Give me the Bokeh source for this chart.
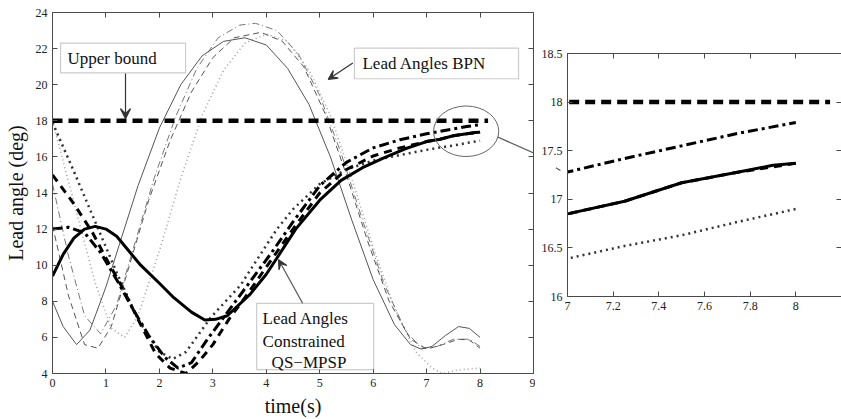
from bokeh.plotting import figure
from bokeh.models import (LinearAxis, FixedTicker, Label, Arrow, VeeHead,
                          BoxAnnotation, Range1d)
from bokeh.layouts import row
from bokeh.embed import file_html
from bokeh.resources import INLINE

# ---------------- data ----------------
# thin (BPN) curves
bpn_solid_t = [0, 0.2, 0.45, 0.7, 1.0, 1.3, 1.6, 2.0, 2.4, 2.8, 3.2, 3.6, 4.0, 4.4, 4.8, 5.2, 5.6, 6.0, 6.4, 6.7, 6.9, 7.1, 7.35, 7.6, 7.8, 8.0]
bpn_solid_v = [8.0, 6.6, 5.6, 6.4, 8.8, 11.6, 14.4, 17.6, 20.0, 21.6, 22.4, 22.6, 22.2, 20.9, 18.9, 16.0, 12.5, 9.2, 6.7, 5.6, 5.35, 5.5, 6.1, 6.6, 6.5, 6.0]

bpn_dash_t = [0, 0.3, 0.6, 0.85, 1.1, 1.4, 1.8, 2.2, 2.6, 3.0, 3.4, 3.9, 4.3, 4.7, 5.1, 5.5, 5.9, 6.3, 6.7, 7.0, 7.3, 7.6, 7.8, 8.0]
bpn_dash_v = [12.2, 8.3, 5.6, 5.4, 6.6, 9.6, 13.6, 16.9, 19.6, 21.5, 22.6, 22.9, 22.4, 21.0, 18.4, 15.0, 11.3, 8.0, 5.9, 5.35, 5.6, 5.9, 5.85, 5.4]

bpn_dashdot_t = [0, 0.3, 0.6, 0.9, 1.2, 1.5, 1.9, 2.3, 2.7, 3.1, 3.5, 3.8, 4.2, 4.6, 5.0, 5.4, 5.8, 6.2, 6.6, 6.9, 7.2, 7.5, 7.8, 8.0]
bpn_dashdot_v = [14.5, 10.5, 7.2, 6.2, 7.8, 10.8, 14.8, 18.2, 20.9, 22.6, 23.3, 23.4, 23.0, 21.7, 19.4, 16.2, 12.5, 9.0, 6.4, 5.4, 5.5, 5.9, 5.9, 5.5]

bpn_dot_t = [0, 0.4, 0.8, 1.1, 1.35, 1.6, 2.0, 2.4, 2.8, 3.2, 3.6, 4.0, 4.4, 4.8, 5.2, 5.6, 6.0, 6.4, 6.8, 7.1, 7.3, 7.6, 8.0]
bpn_dot_v = [18.0, 13.5, 9.0, 6.5, 6.0, 7.2, 10.8, 14.8, 18.3, 20.8, 22.3, 22.8, 22.4, 20.8, 18.3, 14.8, 11.0, 7.6, 5.2, 4.3, 4.0, 4.2, 4.3]

# thick (constrained QS-MPSP) curves
qs_solid_t = [0, 0.2, 0.4, 0.6, 0.8, 1.0, 1.2, 1.65, 2.0, 2.27, 2.6, 2.85, 3.05, 3.27, 3.7, 4.0, 4.2, 4.55, 5.0, 5.4, 5.8, 6.2, 6.6, 7.0, 7.25, 7.5, 7.75, 7.9, 8.0]
qs_solid_v = [9.4, 10.6, 11.5, 12.0, 12.15, 12.0, 11.6, 10.0, 9.0, 8.2, 7.4, 6.96, 7.0, 7.2, 8.4, 9.5, 10.4, 12.0, 13.6, 14.7, 15.4, 15.95, 16.45, 16.85, 16.98, 17.17, 17.28, 17.35, 17.37]

qs_dash_t = [0, 0.4, 0.75, 1.0, 1.3, 1.6, 1.93, 2.2, 2.5, 2.75, 3.0, 3.3, 3.6, 4.0, 4.5, 5.0, 5.5, 6.0, 6.5, 7.0, 7.25, 7.5, 7.75, 8.0]
qs_dash_v = [15.0, 13.4, 11.8, 10.4, 8.8, 7.0, 5.1, 4.3, 4.0, 4.7, 5.6, 7.0, 8.2, 9.9, 12.0, 14.0, 15.3, 16.05, 16.5, 16.85, 16.98, 17.17, 17.28, 17.37]

qs_dashdot_t = [0, 0.3, 0.6, 0.9, 1.2, 1.5, 1.8, 2.1, 2.35, 2.6, 2.9, 3.4, 4.1, 4.5, 5.0, 5.5, 6.0, 6.5, 7.0, 7.25, 7.5, 7.75, 8.0]
qs_dashdot_v = [12.0, 12.1, 11.8, 10.7, 9.2, 7.6, 6.1, 4.9, 4.3, 4.6, 5.9, 7.9, 10.7, 12.4, 14.4, 15.7, 16.5, 16.95, 17.28, 17.42, 17.55, 17.68, 17.79]

qs_dot_t = [0, 0.4, 0.8, 1.2, 1.6, 2.0, 2.25, 2.5, 2.96, 3.52, 4.0, 4.2, 4.5, 5.0, 5.5, 6.0, 6.5, 7.0, 7.25, 7.5, 7.75, 8.0]
qs_dot_v = [17.9, 15.2, 12.4, 9.6, 7.0, 5.2, 4.8, 5.2, 7.1, 8.9, 11.1, 12.0, 13.1, 14.5, 15.3, 15.8, 16.1, 16.39, 16.52, 16.63, 16.77, 16.9]

bound_t = [0, 8.15]
bound_v = [18, 18]

main_xticks = [0, 1, 2, 3, 4, 5, 6, 7, 8, 9]
main_yticks = [4, 6, 8, 10, 12, 14, 16, 18, 20, 22, 24]
inset_xticks = [7, 7.2, 7.4, 7.6, 7.8, 8, 8.2]
inset_yticks = [16, 16.5, 17, 17.5, 18, 18.5]

SERIF = "Liberation Serif"
AX = "#4a4a4a"


def style_axes(p, xticks, yticks, top_ticks, xover=None, yover=None):
    for ax in p.xaxis + p.yaxis:
        ax.major_tick_in = 5
        ax.major_tick_out = 0
        ax.minor_tick_in = 0
        ax.minor_tick_out = 0
        ax.axis_line_color = AX
        ax.major_tick_line_color = AX
        ax.major_label_text_font = SERIF
        ax.major_label_text_font_size = "12px"
        ax.major_label_text_color = "#222222"
        ax.axis_label_text_font = SERIF
        ax.axis_label_text_font_style = "normal"
        ax.axis_label_text_font_size = "20px"
        ax.axis_label_text_color = "#111111"
    p.xaxis.ticker = FixedTicker(ticks=xticks)
    p.yaxis.ticker = FixedTicker(ticks=yticks)
    if xover:
        p.xaxis.major_label_overrides = xover
    if yover:
        p.yaxis.major_label_overrides = yover
    for side, tks in (("above", top_ticks), ("right", yticks)):
        ax = LinearAxis(ticker=FixedTicker(ticks=tks), major_label_text_color=None,
                        major_label_text_font_size="1px", major_label_standoff=0,
                        axis_label_standoff=0,
                        major_tick_in=5, major_tick_out=0, minor_tick_in=0, minor_tick_out=0,
                        axis_line_color=AX, major_tick_line_color=AX)
        p.add_layout(ax, side)
    p.outline_line_color = None
    p.xgrid.visible = False
    p.ygrid.visible = False


def draw_series(p):
    p.line(bpn_dot_t, bpn_dot_v, line_color="#a0a0a0", line_width=1.6, line_dash="1 3")
    p.line(bpn_dashdot_t, bpn_dashdot_v, line_color="#777777", line_width=1, line_dash="7 3 1 3")
    p.line(bpn_dash_t, bpn_dash_v, line_color="#555555", line_width=1, line_dash="6 4")
    p.line(bpn_solid_t, bpn_solid_v, line_color="#555555", line_width=1)
    p.line(qs_dot_t, qs_dot_v, line_color="#333333", line_width=2.5, line_dash="2 4")
    p.line(qs_dashdot_t, qs_dashdot_v, line_color="black", line_width=3, line_dash="10 4 3 4")
    p.line(qs_dash_t, qs_dash_v, line_color="black", line_width=3, line_dash="8 6")
    p.line(qs_solid_t, qs_solid_v, line_color="black", line_width=3)
    p.line(bound_t, bound_v, line_color="black", line_width=4.5, line_dash="10 6")


# ---------------- main figure ----------------
p = figure(width=535, height=419, output_backend="svg", toolbar_location=None,
           x_range=Range1d(0, 9), y_range=Range1d(4, 24),
           min_border_left=52, min_border_right=2, min_border_top=12, min_border_bottom=42,
           background_fill_color="white", border_fill_color="white", frame_align=False)
p.xaxis.axis_label = "time(s)"
p.yaxis.axis_label = "Lead angle (deg)"
style_axes(p, main_xticks, main_yticks, main_xticks)
p.xaxis[0].axis_label_standoff = 1
p.yaxis[0].axis_label_standoff = 6
draw_series(p)


def textbox(p, left, right, bottom, top):
    p.add_layout(BoxAnnotation(left=left, right=right, bottom=bottom, top=top,
                               fill_color="white", fill_alpha=1.0,
                               line_color="#555555", line_width=1.2))


textbox(p, 0.15, 2.49, 20.66, 22.30)
p.add_layout(Label(x=0.28, y=21.45, text="Upper bound", text_font=SERIF,
                   text_font_size="17px", text_baseline="middle", text_color="#111111"))
p.add_layout(Arrow(x_start=1.366, y_start=20.62, x_end=1.366, y_end=18.12,
                   line_color="#333333", line_width=1.2,
                   end=VeeHead(size=10, line_color="#333333", fill_color="#333333", line_width=1.2)))

textbox(p, 5.65, 8.72, 20.33, 22.03)
p.add_layout(Label(x=5.80, y=21.2, text="Lead Angles BPN", text_font=SERIF,
                   text_font_size="17px", text_baseline="middle", text_color="#111111"))
p.add_layout(Arrow(x_start=5.62, y_start=21.2, x_end=5.16, y_end=20.3,
                   line_color="#333333", line_width=1.2,
                   end=VeeHead(size=9, line_color="#333333", fill_color="#333333", line_width=1.2)))

textbox(p, 3.82, 6.01, 4.22, 7.89)
for txt, yy, xx in [("Lead Angles", 7.02, 3.93), ("Constrained", 5.78, 3.93), ("QS\u2212MPSP", 4.6, 4.10)]:
    p.add_layout(Label(x=xx, y=yy, text=txt, text_font=SERIF, text_font_size="17px",
                       text_baseline="middle", text_color="#111111"))
p.add_layout(Arrow(x_start=4.68, y_start=7.89, x_end=4.23, y_end=10.3,
                   line_color="#555555", line_width=1.2,
                   end=VeeHead(size=9, line_color="#333333", fill_color="#333333", line_width=1.2)))

# ellipse around the end region
p.ellipse(x=[7.74], y=[17.42], width=1.22, height=2.8, fill_color=None,
          line_color="#666666", line_width=1)
p.add_layout(Arrow(x_start=8.33, y_start=17.1, x_end=9.05, y_end=16.16,
                   line_color="#555555", line_width=1.2, end=None))

# ---------------- inset figure ----------------
q = figure(width=306, height=419, output_backend="svg", toolbar_location=None,
           x_range=Range1d(7, 8.2), y_range=Range1d(16, 18.5),
           min_border_left=32, min_border_right=0, min_border_top=53, min_border_bottom=123,
           background_fill_color="white", border_fill_color="white", frame_align=False)
# the last x tick label sits on the canvas edge: drawn as a free label, right-aligned to stay visible
style_axes(q, inset_xticks[:-1], inset_yticks, inset_xticks,
           xover={7: "7", 7.2: "7.2", 7.4: "7.4", 7.6: "7.6", 7.8: "7.8", 8: "8"},
           yover={16: "16", 16.5: "16.5", 17: "17", 17.5: "17.5", 18: "18", 18.5: "18.5"})
q.add_layout(Label(x=inset_xticks[-1], y=15.945, text=str(inset_xticks[-1]), text_font=SERIF,
                   text_font_size="12px", text_align="right", text_baseline="top",
                   text_color="#222222", x_offset=-1))
draw_series(q)
q.add_layout(Arrow(x_start=6.86, y_start=17.451, x_end=6.969, y_end=17.296,
                   line_color="#555555", line_width=1.2,
                   end=VeeHead(size=10, line_color="#333333", fill_color="#333333", line_width=1.2)))

layout = row(p, q, spacing=0)
open("out.html", "w").write(file_html(layout, INLINE))
